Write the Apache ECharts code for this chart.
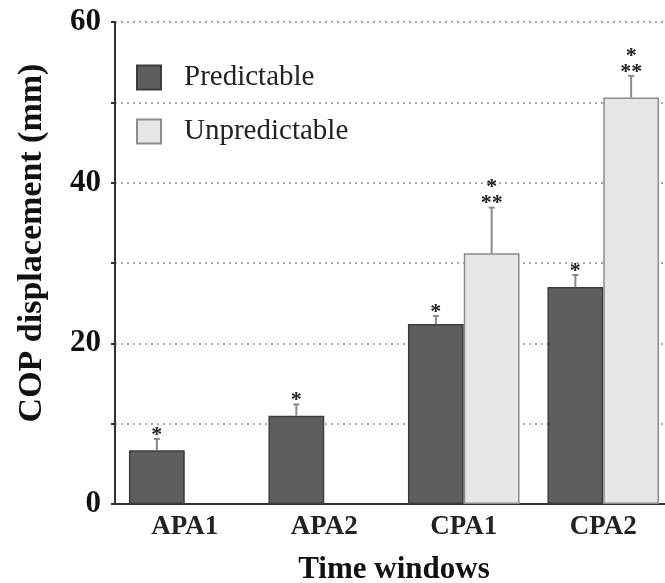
<!DOCTYPE html>
<html>
<head>
<meta charset="utf-8">
<script src="https://cdn.jsdelivr.net/npm/echarts@6/dist/echarts.min.js"></script>
<style>
  html, body { margin: 0; padding: 0; background: #fff; overflow: hidden; }
  #chart { width: 665px; height: 583px; }
</style>
</head>
<body>
<div id="chart"></div>
<script>
// Time windows on the x axis
const categories = ['APA1', 'APA2', 'CPA1', 'CPA2'];
// Mean COP displacement (mm)
const predictable = [6.7, 11.0, 22.4, 27.0];
const unpredictable = [null, null, 31.2, 50.6];
// Upper error (SD) above each mean
const predictableErr = [1.4, 1.4, 1.0, 1.5];
const unpredictableErr = [null, null, 5.7, 2.7];
// Significance marks: top row / second row above each error bar
const predictableMarksTop = ['*', '*', '*', '*'];
const unpredictableMarksTop = ['', '', '*', '*'];
const unpredictableMarksLow = ['', '', '**', '**'];
// Y axis ticks
const yMin = 0, yMax = 60, yStep = 10, yLabelStep = 20;

const serif = '"Liberation Serif", "Times New Roman", serif';

function errorData(means, errs, marksTop, marksLow) {
  const out = [];
  means.forEach((m, i) => {
    if (m == null) return;
    out.push([i, m, m + errs[i], marksTop[i] || '', (marksLow && marksLow[i]) || '']);
  });
  return out;
}

// Upper error whisker with a short cap, plus significance asterisks above it
function errorRenderer(offsetFrac) {
  return function (params, api) {
    const xi = api.value(0);
    const mean = api.value(1);
    const top = api.value(2);
    const markTop = api.value(3);
    const markLow = api.value(4);
    const band = api.size([1, 0])[0];
    const base = api.coord([xi, mean]);
    const high = api.coord([xi, top]);
    const x = base[0] + band * offsetFrac;
    const children = [
      { type: 'line', shape: { x1: x, y1: base[1], x2: x, y2: high[1] },
        style: { stroke: '#8a8a8a', lineWidth: 2 } },
      { type: 'line', shape: { x1: x - 3, y1: high[1], x2: x + 3, y2: high[1] },
        style: { stroke: '#8a8a8a', lineWidth: 2 } }
    ];
    let y = high[1] - 1;
    if (markLow) {
      children.push({ type: 'text', x: x, y: y + 8,
        style: { text: markLow, font: 'bold 22px ' + serif, fill: '#222',
                 align: 'center', verticalAlign: 'bottom' } });
      y -= 16;
    }
    if (markTop) {
      children.push({ type: 'text', x: x, y: y + 8,
        style: { text: markTop, font: 'bold 22px ' + serif, fill: '#222',
                 align: 'center', verticalAlign: 'bottom' } });
    }
    return { type: 'group', children: children };
  };
}

const chart = echarts.init(document.getElementById('chart'), null, { renderer: 'canvas', width: 665, height: 583 });

chart.setOption({
  animation: false,
  backgroundColor: '#fff',
  grid: { left: 115, top: 22, width: 558, height: 482, containLabel: false, outerBoundsMode: 'none' },
  legend: {
    orient: 'vertical',
    left: 136,
    top: 63,
    padding: 0,
    itemWidth: 24,
    itemHeight: 24,
    itemGap: 25,
    icon: 'rect',
    textStyle: { fontFamily: serif, fontSize: 29, lineHeight: 24, color: '#222', padding: [0, 0, 0, 18] },
    data: ['Predictable', 'Unpredictable']
  },
  xAxis: {
    type: 'category',
    data: categories,
    name: 'Time windows',
    nameLocation: 'middle',
    nameGap: 50,
    nameTextStyle: { fontFamily: serif, fontWeight: 'bold', fontSize: 31, color: '#111' },
    axisLine: { lineStyle: { color: '#333', width: 2 } },
    axisTick: { show: false },
    axisLabel: { fontFamily: serif, fontWeight: 'bold', fontSize: 27, color: '#222', margin: 10 }
  },
  yAxis: {
    type: 'value',
    min: yMin,
    max: yMax,
    interval: yStep,
    name: 'COP displacement (mm)',
    nameLocation: 'middle',
    nameGap: 66,
    nameTextStyle: { fontFamily: serif, fontWeight: 'bold', fontSize: 34, color: '#111', padding: [0, 0, 0, 40] },
    axisLine: { show: true, lineStyle: { color: '#333', width: 2 } },
    axisTick: { show: true, length: 4, lineStyle: { color: '#333', width: 2 } },
    axisLabel: {
      fontFamily: serif, fontWeight: 'bold', fontSize: 31, color: '#111', margin: 14,
      formatter: v => (v % yLabelStep === 0 ? String(v) : '')
    },
    splitLine: { show: true, lineStyle: { color: '#aaa', width: 2, type: [2, 4] } }
  },
  series: [
    {
      name: 'Predictable',
      type: 'bar',
      data: predictable,
      barWidth: '40%',
      barGap: '0%',
      itemStyle: { color: '#5e5e5e', borderColor: '#3c3c3c', borderWidth: 1.5 },
      z: 2
    },
    {
      name: 'Unpredictable',
      type: 'bar',
      data: unpredictable,
      barWidth: '40%',
      itemStyle: { color: '#e6e6e6', borderColor: '#8c8c8c', borderWidth: 1.5 },
      z: 2
    },
    {
      type: 'custom',
      renderItem: errorRenderer(-0.2),
      data: errorData(predictable, predictableErr, predictableMarksTop, null),
      encode: { x: 0, y: [1, 2] },
      z: 3
    },
    {
      type: 'custom',
      renderItem: errorRenderer(0.2),
      data: errorData(unpredictable, unpredictableErr, unpredictableMarksTop, unpredictableMarksLow),
      encode: { x: 0, y: [1, 2] },
      z: 3
    }
  ]
});
</script>
</body>
</html>
